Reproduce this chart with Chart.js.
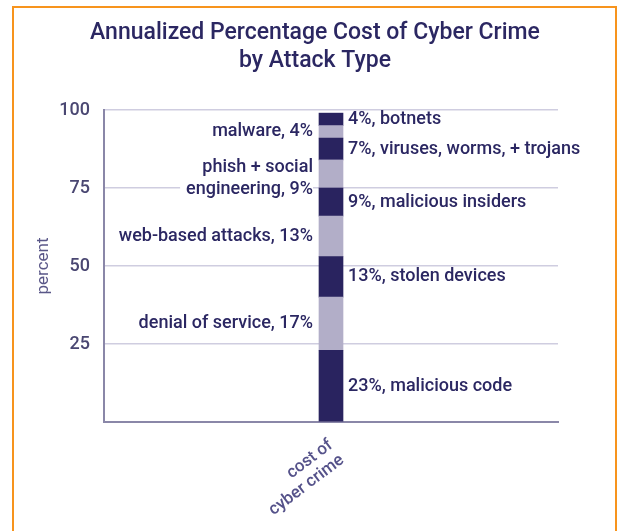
<!DOCTYPE html>
<html>
<head>
<meta charset="utf-8">
<script src="https://cdn.jsdelivr.net/npm/chart.js@4/dist/chart.umd.min.js"></script>
<style>
  body { margin: 0; background: #fff; }
  #wrap { position: relative; width: 617px; height: 531px; }
  #frame { position: absolute; left: 12px; top: 6px; width: 601px; height: 540px;
           border: 2px solid #f7941d; pointer-events: none; }
</style>
</head>
<body>
<div id="wrap">
  <canvas id="chart" width="617" height="531"></canvas>
  <div id="frame"></div>
</div>
<script>
// stacked from the bottom up
const attackTypes = [
    '23%, malicious code',
    'denial of service, 17%',
    '13%, stolen devices',
    'web-based attacks, 13%',
    '9%, malicious insiders',
    ['phish + social', 'engineering, 9%'],
    '7%, viruses, worms, + trojans',
    'malware, 4%',
    '4%, botnets'
];
const shares = [23, 17, 13, 13, 9, 9, 7, 4, 4];
const category = [['cost of', 'cyber crime']];
const yTicks = [25, 50, 75, 100];
const titleLines = ['Annualized Percentage Cost of Cyber Crime', 'by Attack Type'];

const dark = '#29235f';
const light = '#b2aec8';
const textColor = '#2b2762';

// title centred on the whole frame, not the padded layout box
const titlePlugin = {
    id: 'frameTitle',
    afterDraw(chart) {
        const ctx = chart.ctx;
        ctx.save();
        ctx.font = '500 23px Roboto';
        ctx.fillStyle = textColor;
        ctx.textAlign = 'center';
        ctx.textBaseline = 'middle';
        titleLines.forEach((t, i) => ctx.fillText(t, 315, 33 + i * 28));
        ctx.restore();
    }
};

// light segments are labelled on the left, dark ones on the right
const labelPlugin = {
    id: 'segmentLabels',
    afterDatasetsDraw(chart) {
        const ctx = chart.ctx;
        const y = chart.scales.y;
        ctx.save();
        ctx.font = '500 18px Roboto';
        ctx.fillStyle = textColor;
        ctx.textBaseline = 'middle';
        let base = 0;
        chart.data.datasets.forEach((ds, i) => {
            const bar = chart.getDatasetMeta(i).data[0];
            const v = ds.data[0];
            const mid = y.getPixelForValue(base + v / 2);
            base += v;
            const lines = Array.isArray(attackTypes[i]) ? attackTypes[i] : [attackTypes[i]];
            const lh = 22;
            const left = i % 2 === 1;
            const x = left ? bar.x - bar.width / 2 - 6 : bar.x + bar.width / 2 + 5;
            ctx.textAlign = left ? 'right' : 'left';
            lines.forEach((t, k) => {
                const ty = mid + (k - (lines.length - 1) / 2) * lh + (lines.length > 1 ? 5 : 0);
                if (left) {
                    const w = ctx.measureText(t).width;
                    ctx.fillStyle = '#fff';
                    ctx.fillRect(x - w - 6, ty - 10, w + 6, 20);
                    ctx.fillStyle = textColor;
                }
                ctx.fillText(t, x, ty);
            });
        });
        ctx.restore();
    }
};

new Chart(document.getElementById('chart'), {
    type: 'bar',
    data: {
        labels: category,
        datasets: shares.map((v, i) => ({
            label: Array.isArray(attackTypes[i]) ? attackTypes[i].join(' ') : attackTypes[i],
            data: [v],
            backgroundColor: i % 2 === 0 ? dark : light,
            barThickness: 24
        }))
    },
    options: {
        responsive: false,
        devicePixelRatio: 1,
        animation: false,
        layout: { padding: { left: 34, right: 59, top: 110, bottom: 0 } },
        plugins: {
            legend: { display: false },
            tooltip: { enabled: false },
            title: { display: false }
        },
        scales: {
            x: {
                stacked: true,
                grid: { display: false },
                border: { color: '#8a87a8', width: 2 },
                ticks: {
                    color: '#55528a',
                    font: { family: 'Roboto', size: 17, weight: '500', lineHeight: 1.1 },
                    minRotation: 37,
                    maxRotation: 37,
                    padding: 6
                },
                afterFit(scale) { scale.height = 109; }
            },
            y: {
                stacked: true,
                min: 0,
                max: 100,
                afterBuildTicks(scale) {
                    scale.ticks = [0].concat(yTicks).map(v => ({ value: v }));
                },
                ticks: {
                    color: '#4a4772',
                    font: { family: 'Roboto', size: 18, weight: '500' },
                    padding: 14,
                    callback: v => v === 0 ? '' : v
                },
                grid: {
                    drawTicks: false,
                    color: ctx => ctx.tick && ctx.tick.value === 0 ? 'rgba(0,0,0,0)' : '#cfcde0',
                    lineWidth: 1.5
                },
                border: { color: '#8a87a8', width: 2 },
                title: {
                    display: true,
                    text: 'percent',
                    color: '#5a5788',
                    font: { family: 'Roboto', size: 17 },
                    padding: 0
                },
                afterFit(scale) { scale.width = 70; }
            }
        }
    },
    plugins: [labelPlugin, titlePlugin]
});
</script>
</body>
</html>
